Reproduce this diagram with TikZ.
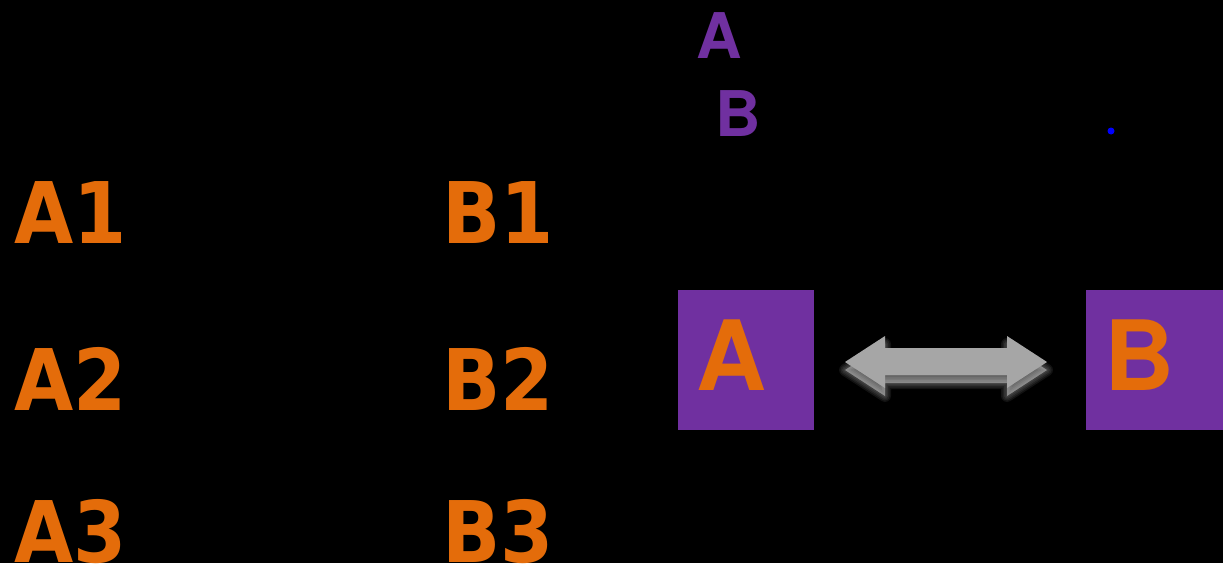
\documentclass[tikz,border=0pt]{standalone}
\usepackage{fontspec}
\newfontfamily\dvsansb{DejaVuSansCondensed-Bold}[Extension=.ttf]
\newfontfamily\heros{TeX Gyre Heros}
\definecolor{myorange}{HTML}{E46C0A}
\definecolor{mypurple}{HTML}{7030A0}
\definecolor{arrowgray}{HTML}{A6A6A6}
\definecolor{dotblue}{HTML}{0000FF}
\tikzset{
  lbl/.style={anchor=base west, inner sep=0pt, text=myorange, font=\dvsansb\fontsize{85}{85}\selectfont},
  toplbl/.style={anchor=base west, inner sep=0pt, text=mypurple, font=\heros\bfseries\fontsize{63}{63}\selectfont},
  boxlbl/.style={anchor=base west, inner sep=0pt, text=myorange, font=\heros\bfseries\fontsize{97}{97}\selectfont},
  pbox/.style={fill=mypurple, draw=none},
  glow/.style={draw=white, line width=#1, line join=round, draw opacity=0.07, fill=white, fill opacity=0.12},
}
\def\arrowpath{(845,362) -- (885,336) -- (885,348) -- (1007,348) -- (1007,336) -- (1047,362)
  -- (1007,388) -- (1007,375) -- (885,375) -- (885,388) -- cycle}
\begin{document}
\begin{tikzpicture}[x=1pt,y=-1pt]
\fill[black] (0,0) rectangle (1223,563);
\useasboundingbox (0,0) rectangle (1223,563);
% left columns
\node[lbl] (a1) at (14,243) {A1};
\node[lbl] (a2) at (14,410) {A2};
\node[lbl] (a3) at (14,562) {A3};
\node[lbl] (b1) at (442,243) {B1};
\node[lbl] (b2) at (442,410) {B2};
\node[lbl] (b3) at (442,562) {B3};
% top purple letters
\node[toplbl] (ta) at (696,58) {A};
\node[toplbl] (tb) at (715,136) {B};
% blue dot
\fill[dotblue] (1111,131) circle (3.5);
% boxes
\fill[pbox] (678,290) rectangle (814,430);
\fill[pbox] (1086,290) rectangle (1223,430);
\node[boxlbl] (ba) at (696,390) {A};
\node[boxlbl] (bb) at (1104,390) {B};
% double arrow with soft glow below
\begin{scope}[yshift=-8pt]
  \foreach \w in {12,9,6,3}{
    \path[glow=\w pt] \arrowpath;
  }
\end{scope}
\fill[arrowgray] \arrowpath;
\end{tikzpicture}
\end{document}
